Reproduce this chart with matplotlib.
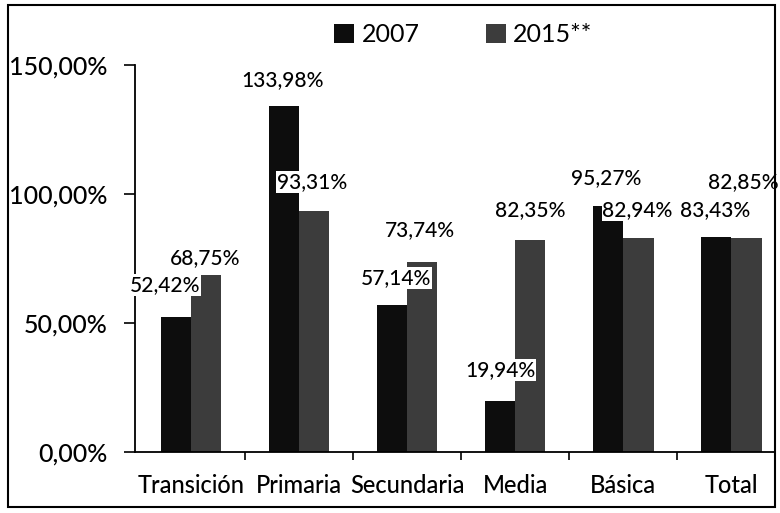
import numpy as np
import matplotlib.pyplot as plt
from matplotlib.patches import Rectangle

plt.rcParams['font.family'] = ['Lato', 'DejaVu Sans']

categories = ['Transición', 'Primaria', 'Secundaria', 'Media', 'Básica', 'Total']
vals_2007 = [52.42, 133.98, 57.14, 19.94, 95.27, 83.43]
vals_2015 = [68.75, 93.31, 73.74, 82.35, 82.94, 82.85]
series_names = ['2007', '2015**']
ytick_labels = ['0,00%', '50,00%', '100,00%', '150,00%']

# label placement tweaks (x offset in category units, y offset in %)
dx_2007 = [-0.10, -0.01, 0.04, 0.0, -0.02, -0.01]
dy_2007 = [12.3, 10.2, 10.3, 11.8, 10.9, 10.4]
dx_2015 = [-0.01, -0.02, -0.02, 0.0, -0.01, -0.03]
dy_2015 = [6.4, 11.4, 12.3, 11.4, 10.9, 21.8]

fig = plt.figure(figsize=(7.8, 5.13), dpi=100)
ax = fig.add_axes([0.173, 0.119, 0.82, 0.754])

x = np.arange(len(categories))
w = 0.28
b1 = ax.bar(x - w / 2, vals_2007, w, color='#0d0d0d', label=series_names[0])
b2 = ax.bar(x + w / 2, vals_2015, w, color='#3c3c3c', label=series_names[1])

def fmt(v):
    return ('%.2f%%' % v).replace('.', ',')

for i in range(len(categories)):
    ax.text(x[i] - w / 2 + dx_2007[i], vals_2007[i] + dy_2007[i], fmt(vals_2007[i]),
            ha='center', va='center', fontsize=15, color='black', fontweight='medium',
            bbox=dict(facecolor='white', edgecolor='none', pad=0.5))
    ax.text(x[i] + w / 2 + dx_2015[i], vals_2015[i] + dy_2015[i], fmt(vals_2015[i]),
            ha='center', va='center', fontsize=15, color='black', fontweight='medium',
            bbox=dict(facecolor='white', edgecolor='none', pad=0.5))

ax.set_ylim(0, 150)
ax.set_xlim(-0.52, 5.4)
ax.set_yticks([0, 50, 100, 150])
ax.set_yticklabels(ytick_labels, fontsize=18, fontweight='medium')
ax.set_xticks(x)
ax.set_xticklabels(categories, fontsize=17, fontweight='medium')
ax.tick_params(axis='x', which='major', length=0, pad=16)
ax.set_xticks(x[:-1] + 0.5, minor=True)
ax.tick_params(axis='x', which='minor', length=6, width=1.2, direction='out')
ax.tick_params(axis='y', length=8, width=1.2, direction='out', pad=12)
ax.spines['top'].set_visible(False)
ax.spines['right'].set_visible(False)
ax.spines['left'].set_linewidth(1.3)
ax.spines['bottom'].set_linewidth(1.3)

fig.legend(handles=[b1, b2], labels=series_names, loc='center',
           bbox_to_anchor=(0.594, 0.932), ncol=2, frameon=False, fontsize=18,
           handlelength=0.8, handleheight=0.8, handletextpad=0.3, columnspacing=2.65)

fig.patches.append(Rectangle((8 / 780, 6 / 513), 767 / 780, 502 / 513,
                             transform=fig.transFigure, fill=False,
                             edgecolor='black', linewidth=1.5))

fig.savefig('out.png', dpi=100)
